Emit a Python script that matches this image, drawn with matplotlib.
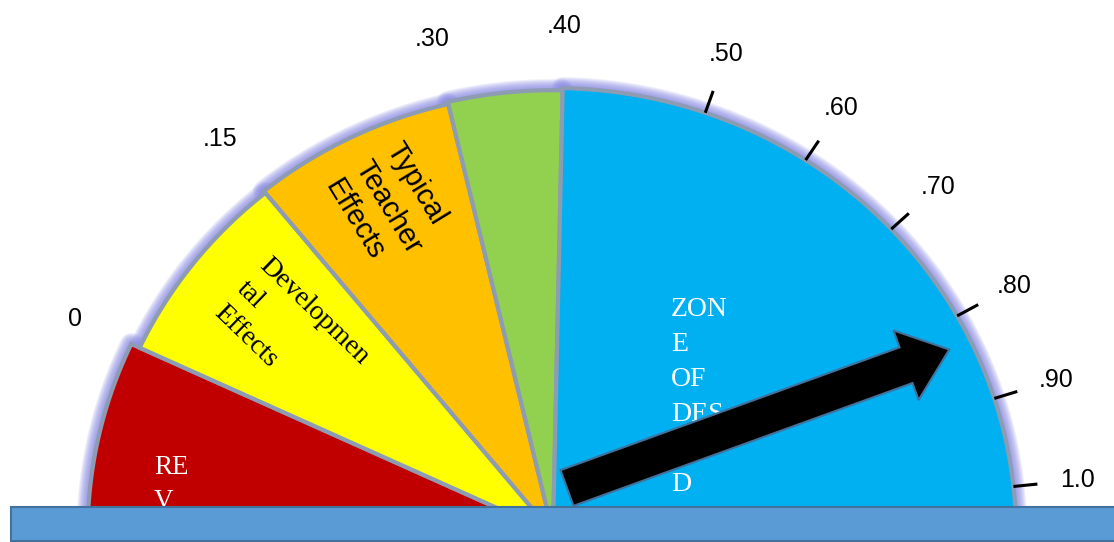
import numpy as np
import matplotlib.pyplot as plt
from matplotlib.patches import Polygon, Rectangle, FancyArrow

# effect-size bands of the dial (None = open end of the dial)
band_starts = [None, 0.0, 0.15, 0.30, 0.40]
band_ends = [0.0, 0.15, 0.30, 0.40, None]
band_colors = ['#C00000', '#FFFF00', '#FFC000', '#92D050', '#00B0F0']
band_radius = [1.005, 0.985, 0.99, 0.995, 1.0]

# scale labels around the rim
tick_values = [0, 0.15, 0.30, 0.40, 0.50, 0.60, 0.70, 0.80, 0.90, 1.0]
tick_labels = ['0', '.15', '.30', '.40', '.50', '.60', '.70', '.80', '.90', '1.0']
marked_ticks = [0.50, 0.60, 0.70, 0.80, 0.90, 1.0]

needle_value = 0.83

# dial scale: effect size -> angle in degrees (piecewise linear)
scale_values = [0, 0.30, 0.40, 0.50, 0.80, 1.0]
scale_angles = [155, 103.2, 88.8, 70.8, 29.2, 6]

W, H = 1114, 542
CX, CY = 553, 533      # dial hub (pixels)
RX, RY = 463, 445      # dial radii (pixels)


def to_angle(v, open_end=180.0):
    if v is None:
        return open_end
    return float(np.interp(v, scale_values, scale_angles))


def dial_point(angle, r):
    a = np.radians(angle)
    return CX + r * RX * np.cos(a), CY - r * RY * np.sin(a)


fig = plt.figure(figsize=(W / 100, H / 100), dpi=100)
ax = fig.add_axes([0, 0, 1, 1])
ax.set_xlim(0, W)
ax.set_ylim(H, 0)
ax.axis('off')

# wedges with a soft lavender glow round the rim
for i, color in enumerate(band_colors):
    a0 = to_angle(band_ends[i], open_end=0.0)
    a1 = to_angle(band_starts[i], open_end=180.0)
    ang = np.linspace(a0, a1, 120)
    xs, ys = dial_point(ang, band_radius[i])
    pts = np.column_stack([np.r_[CX, xs], np.r_[CY, ys]])
    for lw in np.linspace(16, 3, 10):
        ax.add_patch(Polygon(pts, closed=True, fill=False, ec='#8c8ce6',
                             lw=lw, alpha=0.14, joinstyle='round', zorder=1))
    ax.add_patch(Polygon(pts, closed=True, fc=color, ec='#8d9cb3', lw=3,
                         joinstyle='miter', zorder=2))

# tick marks on the desired-effects zone
for v in marked_ticks:
    a = to_angle(v)
    x0, y0 = dial_point(a, 1.0)
    x1, y1 = dial_point(a, 1.052)
    ax.plot([x0, x1], [y0, y1], color='black', lw=2.2, zorder=4,
            solid_capstyle='butt')

for v, lab in zip(tick_values, tick_labels):
    x, y = dial_point(to_angle(v), 1.14)
    ax.text(x, y, lab, ha='center', va='center', fontsize=18,
            family='Liberation Sans', color='black')

# band captions
ax.text(404, 137, 'Typical\nTeacher\nEffects', rotation=-58.6,
        rotation_mode='anchor', ha='left', va='top', multialignment='left',
        fontsize=21, family='Liberation Sans', linespacing=1.35, zorder=3)
ax.text(272, 253, 'Developmen\ntal\nEffects', rotation=-44,
        rotation_mode='anchor', ha='left', va='top', multialignment='left',
        fontsize=20, family='Liberation Serif', linespacing=1.42, zorder=3)
ax.text(154, 455, 'RE\nV\nERS\nE', ha='left', va='top', color='white',
        fontsize=19.5, family='Liberation Serif', linespacing=1.5, zorder=3)
ax.text(671, 297, 'ZON\nE\nOF\nDES\nIRE\nD\nEFF\nECT\nS', ha='left', va='top',
        color='white', fontsize=20, family='Liberation Serif',
        linespacing=1.53, zorder=3)

# needle
tx, ty = 567, 488
hx, hy = dial_point(to_angle(needle_value), 0.95)
ax.add_patch(FancyArrow(tx, ty, hx - tx, hy - ty, width=38, head_width=74,
                        head_length=46, length_includes_head=True,
                        fc='black', ec='#41719C', lw=1.5, zorder=5))

# base bar
ax.add_patch(Rectangle((11, 507), W, 34, fc='#5B9BD5', ec='#41719C',
                       lw=1.5, zorder=6))

fig.savefig('out.png', dpi=100)
